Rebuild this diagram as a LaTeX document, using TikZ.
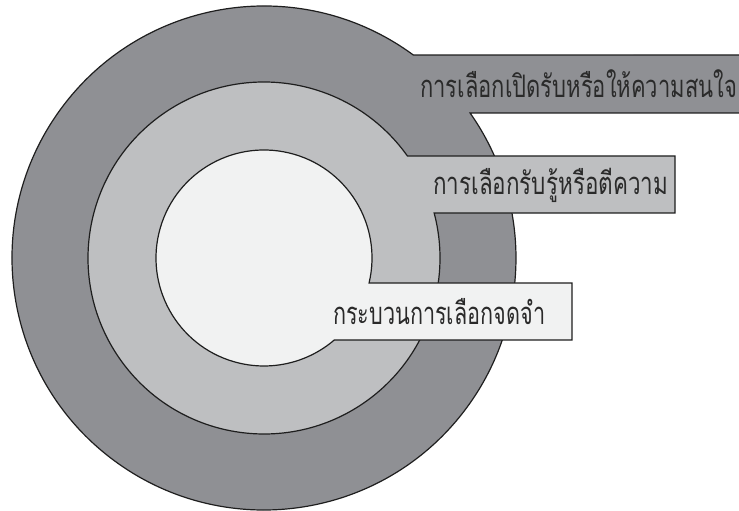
\documentclass[tikz,border=0pt]{standalone}
\usepackage{fontspec}
\usepackage{graphicx}
\newfontfamily\thaifont[Script=Thai]{Loma}
\definecolor{outerc}{HTML}{8F9094}
\definecolor{midc}{HTML}{BEBFC1}
\definecolor{innc}{HTML}{F1F2F2}
\definecolor{edgec}{HTML}{1E1E1E}
\definecolor{txtc}{HTML}{2A2A2A}
\begin{document}
\begin{tikzpicture}[x=1pt,y=1pt,
  ring/.style={draw=edgec, line width=1.2pt, line join=miter},
  lbl/.style={inner sep=0pt, text=txtc, anchor=west, font=\thaifont\fontsize{31}{34}\selectfont}]
\useasboundingbox (0,0) rectangle (739,511);
\clip (0,0) rectangle (739,511);
\coordinate (C) at (264,253);
% outer ring with tab
\path[ring, fill=outerc] (C) ++(53.66:252) arc[start angle=53.66, end angle=395.13, radius=252]
  -- (760,398) -- (760,456) -- cycle;
% middle ring with tab
\path[ring, fill=midc] (C) ++(35.42:176) arc[start angle=35.42, end angle=374.81, radius=176]
  -- (675,298) -- (675,355) -- cycle;
% inner ring with tab
\path[ring, fill=innc] (C) ++(-13.38:108) arc[start angle=-13.38, end angle=310.60, radius=108]
  -- (572,171) -- (572,228) -- cycle;
% labels
\node[lbl] (l1) at (420,427) {\resizebox{317pt}{\height}{การเลือกเปิดรับหรือให้ความสนใจ}};
\node[lbl] (l2) at (433,326) {\resizebox{235pt}{\height}{การเลือกรับรู้หรือตีความ}};
\node[lbl] (l3) at (333,199) {\resizebox{212pt}{\height}{กระบวนการเลือกจดจำ}};
\end{tikzpicture}
\end{document}
